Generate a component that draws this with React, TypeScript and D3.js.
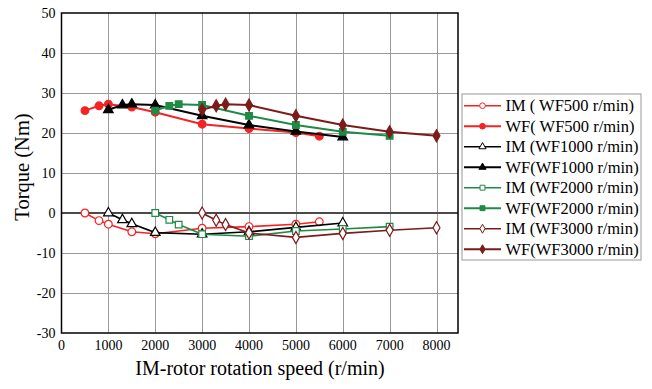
import { useRef, useEffect } from "react";
import * as d3 from "d3";

// speeds (r/min) and torque (Nm)
const im500X = [500, 800, 1000, 1500, 2000, 3000, 4000, 5000, 5500];
const im500Y = [0, -1.9, -2.8, -4.7, -5.2, -3.8, -3.4, -2.8, -2.2];
const wf500X = [500, 800, 1000, 1500, 2000, 3000, 4000, 5000, 5500];
const wf500Y = [25.6, 26.8, 27.2, 26.5, 25.2, 22.2, 21.1, 20.1, 19.2];

const im1000X = [1000, 1300, 1500, 2000, 3000, 4000, 5000, 6000];
const im1000Y = [0, -1.7, -2.7, -4.9, -5.3, -4.7, -3.6, -2.5];
const wf1000X = [1000, 1300, 1500, 2000, 3000, 4000, 5000, 6000];
const wf1000Y = [25.8, 27, 27.2, 27, 24.3, 22, 20.4, 19];

const im2000X = [2000, 2300, 2500, 3000, 4000, 5000, 6000, 7000];
const im2000Y = [0, -1.7, -2.9, -5.3, -5.8, -4.5, -4, -3.4];
const wf2000X = [2000, 2300, 2500, 3000, 4000, 5000, 6000, 7000];
const wf2000Y = [25.6, 26.8, 27.2, 27, 24.3, 22, 20.3, 19.3];

const im3000X = [3000, 3300, 3500, 4000, 5000, 6000, 7000, 8000];
const im3000Y = [0, -1.8, -2.9, -5, -6.1, -5.1, -4.3, -3.7];
const wf3000X = [3000, 3300, 3500, 4000, 5000, 6000, 7000, 8000];
const wf3000Y = [25.8, 26.8, 27.2, 27, 24.3, 22, 20.3, 19.3];

const seriesNames = [
  "IM ( WF500 r/min)",
  "WF( WF500 r/min)",
  "IM (WF1000 r/min)",
  "WF(WF1000 r/min)",
  "IM (WF2000 r/min)",
  "WF(WF2000 r/min)",
  "IM (WF3000 r/min)",
  "WF(WF3000 r/min)",
];
const xTicks = [0, 1000, 2000, 3000, 4000, 5000, 6000, 7000, 8000];
const yTicks = [-30, -20, -10, 0, 10, 20, 30, 40, 50];

const RED = "#f52323";
const BLACK = "#000000";
const GREEN = "#1e8a46";
const DARKRED = "#7d1a1a";
const FONT = "Liberation Serif, DejaVu Serif, Times New Roman, serif";

const App = () => {
  const svgRef = useRef(null);

  useEffect(() => {
    if (!svgRef.current) return;
    const svg = d3.select(svgRef.current);
    svg.selectAll("*").remove();

    const left = 61.5;
    const right = 458;
    const top = 13;
    const bottom = 333;

    const x = d3.scaleLinear().domain([0, 8000]).range([left, 436.5]);
    const y = d3.scaleLinear().domain([-30, 50]).range([bottom, top]);

    const series = [
      { name: seriesNames[0], xs: im500X, ys: im500Y, color: RED, shape: "circle", fill: false },
      { name: seriesNames[1], xs: wf500X, ys: wf500Y, color: RED, shape: "circle", fill: true },
      { name: seriesNames[2], xs: im1000X, ys: im1000Y, color: BLACK, shape: "triangle", fill: false },
      { name: seriesNames[3], xs: wf1000X, ys: wf1000Y, color: BLACK, shape: "triangle", fill: true },
      { name: seriesNames[4], xs: im2000X, ys: im2000Y, color: GREEN, shape: "square", fill: false },
      { name: seriesNames[5], xs: wf2000X, ys: wf2000Y, color: GREEN, shape: "square", fill: true },
      { name: seriesNames[6], xs: im3000X, ys: im3000Y, color: DARKRED, shape: "diamond", fill: false },
      { name: seriesNames[7], xs: wf3000X, ys: wf3000Y, color: DARKRED, shape: "diamond", fill: true },
    ];

    const symbolOf = (shape: string) =>
      shape === "circle"
        ? d3.symbolCircle
        : shape === "triangle"
        ? d3.symbolTriangle
        : shape === "square"
        ? d3.symbolSquare
        : d3.symbolDiamond;
    const sizeOf = (shape: string) =>
      shape === "circle" ? 46 : shape === "triangle" ? 40 : shape === "square" ? 44 : 42;

    svg.append("rect").attr("width", 652).attr("height", 389).attr("fill", "#fff");

    //  GRID
    const grid = svg.append("g").attr("stroke", "#9a9a9a").attr("stroke-width", 1);
    grid
      .selectAll("line.v")
      .data(xTicks.filter((t) => t > 0))
      .join("line")
      .attr("x1", (d) => Math.round(x(d)) + 0.5)
      .attr("x2", (d) => Math.round(x(d)) + 0.5)
      .attr("y1", top)
      .attr("y2", bottom);
    grid
      .selectAll("line.h")
      .data(yTicks.filter((t) => t !== 0 && t !== -30 && t !== 50))
      .join("line")
      .attr("x1", left)
      .attr("x2", right)
      .attr("y1", (d) => Math.round(y(d)) + 0.5)
      .attr("y2", (d) => Math.round(y(d)) + 0.5);

    svg
      .append("line")
      .attr("x1", left)
      .attr("x2", right)
      .attr("y1", y(0))
      .attr("y2", y(0))
      .attr("stroke", "#4a4a4a")
      .attr("stroke-width", 2);

    svg
      .append("rect")
      .attr("x", left)
      .attr("y", top)
      .attr("width", right - left)
      .attr("height", bottom - top)
      .attr("fill", "none")
      .attr("stroke", "#000")
      .attr("stroke-width", 1.5);

    //  TICK LABELS
    svg
      .append("g")
      .style("font-family", FONT)
      .attr("font-size", 14)
      .attr("text-anchor", "middle")
      .selectAll("text")
      .data(xTicks)
      .join("text")
      .attr("x", (d) => x(d))
      .attr("y", bottom + 17)
      .text((d) => d);

    svg
      .append("g")
      .style("font-family", FONT)
      .attr("font-size", 14)
      .attr("text-anchor", "end")
      .selectAll("text")
      .data(yTicks)
      .join("text")
      .attr("x", left - 6)
      .attr("y", (d) => y(d) + 5)
      .text((d) => d);

    svg
      .append("text")
      .attr("x", 260)
      .attr("y", 375)
      .attr("text-anchor", "middle")
      .style("font-family", FONT)
      .attr("font-size", 20)
      .text("IM-rotor rotation speed (r/min)");

    svg
      .append("text")
      .attr("transform", "translate(29,167) rotate(-90)")
      .attr("text-anchor", "middle")
      .style("font-family", FONT)
      .attr("font-size", 20.5)
      .text("Torque (Nm)");

    //  SERIES
    const line = d3
      .line<[number, number]>()
      .x((d) => x(d[0]))
      .y((d) => y(d[1]));

    series.forEach((s) => {
      const pts: [number, number][] = s.xs.map((v, i) => [v, s.ys[i]]);
      const g = svg.append("g");
      g.append("path")
        .attr("d", line(pts))
        .attr("fill", "none")
        .attr("stroke", s.color)
        .attr("stroke-width", s.fill ? 2 : 1.6);
      g.selectAll("path.m")
        .data(pts)
        .join("path")
        .attr("transform", (d) => `translate(${x(d[0])},${y(d[1])})`)
        .attr("d", d3.symbol().type(symbolOf(s.shape)).size(sizeOf(s.shape))() as string)
        .attr("fill", s.fill ? s.color : "#fff")
        .attr("stroke", s.color)
        .attr("stroke-width", 1.2);
    });

    //  LEGEND
    const lg = svg.append("g");
    lg.append("rect")
      .attr("x", 462)
      .attr("y", 94)
      .attr("width", 179)
      .attr("height", 166)
      .attr("fill", "#fff")
      .attr("stroke", "#a8a8a8")
      .attr("stroke-width", 1.2);

    const item = lg
      .selectAll("g")
      .data(series)
      .join("g")
      .attr("transform", (_, i) => `translate(0,${105.7 + i * 20.5})`);
    item
      .append("line")
      .attr("x1", 464)
      .attr("x2", 501)
      .attr("stroke", (d) => d.color)
      .attr("stroke-width", (d) => (d.fill ? 2 : 1.5));
    item
      .append("path")
      .attr("transform", "translate(482.5,0)")
      .attr("d", (d) => d3.symbol().type(symbolOf(d.shape)).size(sizeOf(d.shape) * 0.55)() as string)
      .attr("fill", (d) => (d.fill ? d.color : "#fff"))
      .attr("stroke", (d) => d.color)
      .attr("stroke-width", 1);
    item
      .append("text")
      .attr("x", 505.5)
      .attr("y", 5.5)
      .style("font-family", FONT)
      .attr("font-size", 16.5)
      .text((d) => d.name);
  }, []);

  return (
    <svg
      ref={svgRef}
      width={652}
      height={389}
      style={{ position: "absolute", left: 0, top: 0 }}
    />
  );
};

export default App;
